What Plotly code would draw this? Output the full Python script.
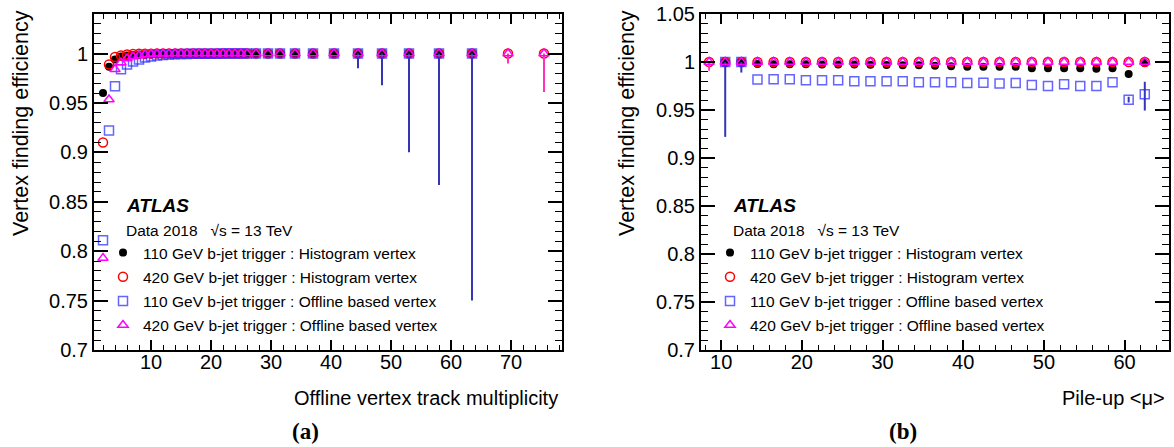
import plotly.graph_objects as go

# ---------------- data: panel (a) ----------------
mult_x = [2, 3, 4, 5, 6, 7, 8, 9, 10, 11, 12, 13, 14, 15, 16, 17, 18, 19, 20, 21, 22, 23, 24, 25, 26,
          27.5, 29.5, 31.5, 34, 37, 40.5, 44.5, 48.5, 53, 58, 63.5, 69.5, 75.5]
a_110_hist = [0.960, 0.9865, 0.994, 0.997, 0.998, 0.9985, 0.999, 0.9993, 0.9995, 0.9996, 0.9997, 0.9997,
              0.9998, 0.9998, 0.9998, 0.9999, 0.9999, 0.9999, 0.9999, 1.0, 1.0, 1.0, 1.0, 1.0, 1.0,
              1.0, 1.0, 1.0, 1.0, 1.0, 1.0, 1.0, 1.0, 1.0, 1.0, 1.0, None, None]
a_420_hist = [0.910, 0.989, 0.9966, 0.998, 0.999, 0.9995, 0.9997, 0.9998, 0.9999, 1.0, 1.0, 1.0,
              1.0, 1.0, 1.0, 1.0, 1.0, 1.0, 1.0, 1.0, 1.0, 1.0, 1.0, 1.0, 1.0,
              1.0, 1.0, 1.0, 1.0, 1.0, 1.0, 1.0, 1.0, 1.0, 1.0, 1.0, 1.0, 1.0]
a_110_off = [0.811, 0.922, 0.967, 0.984, 0.989, 0.992, 0.994, 0.996, 0.997, 0.998, 0.9985, 0.999,
             0.9993, 0.9995, 0.9996, 0.9997, 0.9998, 0.9998, 0.9999, 0.9999, 1.0, 1.0, 1.0, 1.0, 1.0,
             1.0, 1.0, 1.0, 1.0, 1.0, 1.0, 1.0, 1.0, 1.0, 1.0, 1.0, None, None]
a_110_off_errlo = [0] * 31 + [0.015, 0.032, 0.10, 0.133, 0.25, 0, 0]
a_420_off = [0.793, 0.9535, 0.984, 0.991, 0.995, 0.997, 0.998, 0.999, 0.9995, 0.9997, 0.9998, 0.9999,
             1.0, 1.0, 1.0, 1.0, 1.0, 1.0, 1.0, 1.0, 1.0, 1.0, 1.0, 1.0, 1.0,
             1.0, 1.0, 1.0, 1.0, 1.0, 1.0, 1.0, 1.0, 1.0, 1.0, 1.0, 1.0, 1.0]
a_420_off_errlo = [0] * 36 + [0.010, 0.039]

# ---------------- data: panel (b) ----------------
mu_x = [8.5, 10.5, 12.5, 14.5, 16.5, 18.5, 20.5, 22.5, 24.5, 26.5, 28.5, 30.5, 32.5, 34.5,
        36.5, 38.5, 40.5, 42.5, 44.5, 46.5, 48.5, 50.5, 52.5, 54.5, 56.5, 58.5, 60.5, 62.5]
b_110_hist = [None, 1.0, 1.0, 0.9978, 0.9977, 0.9976, 0.9976, 0.9975, 0.9974, 0.9973, 0.9972, 0.9968,
              0.9966, 0.9966, 0.996, 0.9955, 0.995, 0.995, 0.995, 0.995, 0.9935, 0.9935, 0.9935,
              0.9935, 0.993, 0.9935, 0.9875, 0.999]
b_420_hist = [1.0] * 28
b_110_off = [None, 1.0, 1.0, 0.9817, 0.982, 0.982, 0.981, 0.981, 0.981, 0.980, 0.980, 0.980,
             0.980, 0.979, 0.979, 0.979, 0.978, 0.9785, 0.9775, 0.978, 0.976, 0.975, 0.9768,
             0.975, 0.975, 0.979, 0.9608, 0.9664]
b_110_off_errlo = [0, 0.078, 0.011] + [0] * 23 + [0.003, 0.017]
b_110_off_errhi = [0] * 26 + [0.003, 0.013]
b_420_off = [1.0] * 28
b_420_off_errlo = [0.009] + [0] * 27

series_names = ["110 GeV b-jet trigger : Histogram vertex",
                "420 GeV b-jet trigger : Histogram vertex",
                "110 GeV b-jet trigger : Offline based vertex",
                "420 GeV b-jet trigger : Offline based vertex"]

W, H = 1174, 447
FONT = "Liberation Sans, Arial, Helvetica, sans-serif"

BLACK = "#000000"
RED = "#ff0000"
BLUE = "rgba(40,40,255,0.72)"
MAG = "#ff00ff"
ERR_BLUE = "#3535b5"
ERR_PINK = "#ff33bb"


def px(x):
    return x / W


def py(y):
    return 1 - y / H


fig = go.Figure()


def add_panel(xv, ys, errs, xa, ya, legend):
    styles = [
        dict(symbol="circle", size=8, color=BLACK, line=dict(width=0)),
        dict(symbol="circle-open", size=9, color=RED, line=dict(width=1.5, color=RED)),
        dict(symbol="square-open", size=9, color=BLUE, line=dict(width=1.5, color=BLUE)),
        dict(symbol="triangle-up-open", size=9, color=MAG, line=dict(width=1.5, color=MAG)),
    ]
    for i, (yv, st, name) in enumerate(zip(ys, styles, series_names)):
        err = errs[i]
        kw = {}
        if err is not None:
            lo, hi, col = err
            kw["error_y"] = dict(type="data", symmetric=False, array=hi, arrayminus=lo,
                                 color=col, thickness=2, width=0)
        fig.add_trace(go.Scatter(
            x=xv, y=yv, mode="markers", name=name, marker=st,
            xaxis=xa, yaxis=ya, legend=legend, legendgroup=legend + str(i),
            cliponaxis=False, **kw))


add_panel(mult_x, [a_110_hist, a_420_hist, a_110_off, a_420_off],
          [None, None, (a_110_off_errlo, [0] * len(mult_x), ERR_BLUE),
           (a_420_off_errlo, [0] * len(mult_x), ERR_PINK)],
          "x", "y", "legend")
add_panel(mu_x, [b_110_hist, b_420_hist, b_110_off, b_420_off],
          [None, None, (b_110_off_errlo, b_110_off_errhi, ERR_BLUE),
           (b_420_off_errlo, [0] * len(mu_x), ERR_PINK)],
          "x2", "y2", "legend2")

ydom = [py(350), py(14)]


def xaxis(dom, rng, anchor):
    return dict(domain=dom, range=rng, anchor=anchor, dtick=10, tick0=0, ticks="inside", ticklen=10,
                tickwidth=1.5, automargin=False, ticklabelstandoff=-7,
                tickcolor="black", showline=True, linewidth=2, linecolor="black", mirror="allticks",
                showgrid=False, zeroline=False, tickfont=dict(family=FONT, size=20, color="black"),
                minor=dict(dtick=2, tick0=0, ticks="inside", ticklen=5, tickwidth=1.2, tickcolor="black",
                           showgrid=False))


def yaxis(anchor, rng):
    return dict(domain=ydom, range=rng, anchor=anchor, dtick=0.05, tick0=0, ticks="inside", ticklen=14,
                tickwidth=1.5, tickcolor="black", showline=True, linewidth=2, linecolor="black",
                mirror="allticks", showgrid=False, zeroline=False, automargin=False,
                tickfont=dict(family=FONT, size=20, color="black"),
                minor=dict(dtick=0.01, tick0=0, ticks="inside", ticklen=7, tickwidth=1.2,
                           tickcolor="black", showgrid=False))


leg_common = dict(bgcolor="rgba(0,0,0,0)", font=dict(family=FONT, size=15.5, color="black"),
                  xanchor="left", yanchor="top", tracegroupgap=1)

fig.update_layout(
    width=W, height=H, margin=dict(l=0, r=0, t=0, b=0, autoexpand=False),
    paper_bgcolor="white", plot_bgcolor="white",
    xaxis=xaxis([px(94), px(562)], [0.5, 78.5], "y"),
    yaxis=yaxis("x", [0.7, 1.04]),
    xaxis2=xaxis([px(701), px(1169)], [7.5, 65.5], "y2"),
    yaxis2=yaxis("x2", [0.7, 1.05]),
    legend=dict(x=px(103), y=py(236), **leg_common),
    legend2=dict(x=px(710), y=py(236), **leg_common),
    showlegend=True,
)

ann = []
for (x0, ytl, xt, xtitle, lab, labx) in [
        (124, 21, 560, "Offline vertex track multiplicity", "(a)", 305),
        (731, 627, 1167, "Pile-up &lt;μ&gt;", "(b)", 903)]:
    ann.append(dict(x=px(x0), y=py(205), xref="paper", yref="paper", xanchor="left", yanchor="middle",
                    text="<b><i>ATLAS</i></b>", showarrow=False,
                    font=dict(family=FONT, size=19, color="black")))
    ann.append(dict(x=px(x0), y=py(230), xref="paper", yref="paper", xanchor="left", yanchor="middle",
                    text="Data 2018\u00a0\u00a0\u00a0√s = 13 TeV", showarrow=False,
                    font=dict(family=FONT, size=15.5, color="black")))
    ann.append(dict(x=px(ytl), y=py(8), xref="paper", yref="paper", xanchor="center", yanchor="top",
                    text="Vertex finding efficiency", textangle=-90, showarrow=False,
                    font=dict(family=FONT, size=21.5, color="black")))
    ann.append(dict(x=px(xt), y=py(398), xref="paper", yref="paper", xanchor="right", yanchor="middle",
                    text=xtitle, showarrow=False, font=dict(family=FONT, size=20, color="black")))
    ann.append(dict(x=px(labx), y=py(431), xref="paper", yref="paper", xanchor="center", yanchor="middle",
                    text="<b>" + lab + "</b>", showarrow=False,
                    font=dict(family="Liberation Serif, Times New Roman, serif", size=23, color="black")))
fig.update_layout(annotations=ann)

fig.write_html("out.html", post_script="document.body.style.margin='0';",
               config={"displayModeBar": False})
